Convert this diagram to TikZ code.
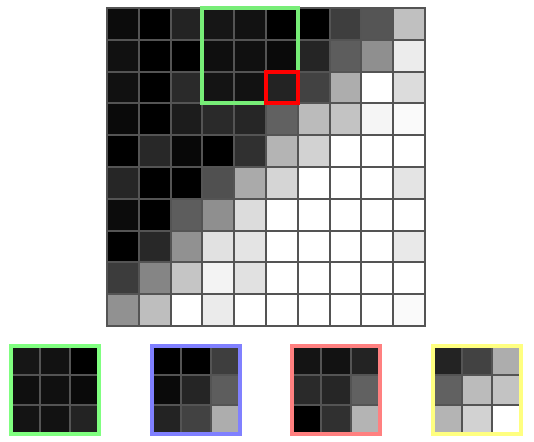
\documentclass[tikz,border=0pt]{standalone}
\usetikzlibrary{calc}
\definecolor{gridgray}{gray}{0.33}
\definecolor{greenframe}{RGB}{128,255,128}
\definecolor{blueframe}{RGB}{128,128,255}
\definecolor{redframe}{RGB}{255,128,128}
\definecolor{yellowframe}{RGB}{255,255,128}
% grey levels of the 10x10 image, row by row
\def\pix{{12,0,35,22,18,0,0,62,85,192,
17,0,0,15,16,10,37,93,143,236,
17,0,42,20,18,35,66,173,255,220,
10,0,28,42,38,97,187,195,245,250,
0,40,8,0,48,180,210,255,255,255,
38,0,0,80,170,213,255,255,255,228,
12,0,93,143,220,255,255,255,255,255,
0,40,145,225,228,255,255,255,255,233,
60,133,197,243,225,255,255,255,255,255,
145,190,255,235,255,255,255,255,255,250}}
\tikzset{
  cellbox/.style={draw=gridgray,line width=1pt},
  framebox/.style={line width=2pt},
}

\begin{document}
\begin{tikzpicture}[x=0.5pt,y=-0.5pt]
  \useasboundingbox (0,0) rectangle (534,442);
  % main image
  \foreach \r in {0,...,9}
    \foreach \c in {0,...,9}{
      \pgfmathsetmacro\g{\pix[\r*10+\c]/255}
      \definecolor{cellfill}{gray}{\g}
      \path[cellbox,fill=cellfill] (107+\c*31.8,8+\r*31.8) rectangle ++(31.8,31.8);
    }
  \draw[framebox,greenframe!93!black] (107+3*31.8,8) rectangle ++(3*31.8,3*31.8);
  \draw[framebox,red] (107+5*31.8,8+2*31.8) rectangle ++(31.8,31.8);
  % 3x3 patches
  \foreach \fx/\fr/\fc/\fcol in {9/0/3/greenframe,150/0/5/blueframe,290/2/3/redframe,431/2/5/yellowframe}{
    \foreach \r in {0,1,2}
      \foreach \c in {0,1,2}{
        \pgfmathsetmacro\g{\pix[(\fr+\r)*10+\fc+\c]/255}
        \definecolor{cellfill}{gray}{\g}
        \path[cellbox,fill=cellfill] (\fx+2+\c*29.33,346+\r*29.33) rectangle ++(29.33,29.33);
      }
    \draw[framebox,\fcol] (\fx+2,346) rectangle ++(88,88);
  }
\end{tikzpicture}
\end{document}
